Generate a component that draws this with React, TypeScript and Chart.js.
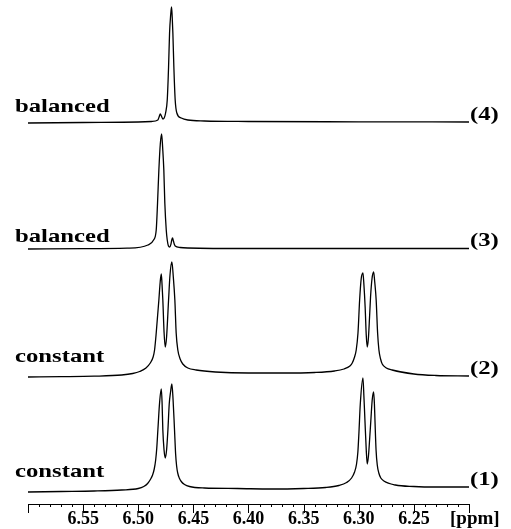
import React, { useEffect, useRef } from "react";
import { Chart, registerables } from "chart.js";

Chart.register(...registerables);

// ppm axis
const PPM_MIN = 6.2;
const PPM_MAX = 6.6;
const TICK_LABELS = ["6.55", "6.50", "6.45", "6.40", "6.35", "6.30", "6.25"];
const AXIS_UNIT = "[ppm]";

// trace names (bottom to top)
const TRACE_NAMES = ["constant", "constant", "balanced", "balanced"];
const TRACE_TAGS = ["(1)", "(2)", "(3)", "(4)"];
// vertical offsets of the stacked spectra (intensity units)
const TRACE_OFFSETS = [12, 127, 255, 381];

// spectrum (1): [ppm, intensity]
const SPECTRUM_1: [number, number][] = [
  [6.6, 0], [6.57, 0.5], [6.54, 1], [6.515, 2], [6.5, 3.5], [6.495, 5.5], [6.4915, 8.5], [6.489, 12.5],
  [6.487, 17], [6.4855, 23], [6.4842, 32], [6.4832, 44], [6.4822, 62], [6.4806, 90], [6.4791, 103],
  [6.4784, 90], [6.4777, 62], [6.4766, 42], [6.4755, 34], [6.4743, 42], [6.4731, 62], [6.4719, 88],
  [6.4707, 100], [6.4695, 108], [6.4684, 92], [6.4671, 62], [6.4661, 38], [6.4652, 26], [6.4642, 19],
  [6.4628, 14], [6.461, 10.5], [6.458, 7.5], [6.4535, 5.5], [6.44, 4], [6.41, 3.5], [6.38, 3],
  [6.35, 3.5], [6.33, 4.5], [6.318, 6.5], [6.311, 9.5], [6.3065, 14], [6.3038, 20], [6.302, 28],
  [6.3008, 40], [6.2998, 60], [6.2986, 88], [6.2962, 114], [6.2953, 95], [6.2944, 72], [6.2932, 42],
  [6.2923, 28], [6.2912, 36], [6.29, 55], [6.289, 72], [6.2878, 92], [6.2865, 100], [6.2858, 88],
  [6.2853, 72], [6.2843, 42], [6.2832, 27], [6.2818, 19], [6.28, 14], [6.2772, 11], [6.2667, 7],
  [6.25, 5.5], [6.23, 5], [6.2, 5],
];

// spectrum (2)
const SPECTRUM_2: [number, number][] = [
  [6.6, 0], [6.57, 0.3], [6.54, 0.8], [6.515, 2], [6.505, 3.5], [6.4987, 5.5], [6.493, 9], [6.4891, 14],
  [6.4865, 20], [6.4852, 27], [6.4837, 44], [6.4813, 77], [6.4801, 95], [6.4791, 103], [6.4784, 92],
  [6.4777, 77], [6.4766, 45], [6.4755, 30], [6.4743, 40], [6.4725, 77], [6.4712, 102], [6.4695, 115],
  [6.4682, 100], [6.4668, 77], [6.4656, 44], [6.4641, 27], [6.462, 18], [6.4596, 13], [6.455, 9],
  [6.4475, 7], [6.43, 5], [6.4, 4], [6.37, 4], [6.34, 4.5], [6.322, 6], [6.3134, 8], [6.308, 11],
  [6.3059, 14], [6.3038, 20], [6.3023, 27], [6.3007, 44], [6.2992, 77], [6.2978, 98], [6.2962, 104],
  [6.2953, 92], [6.2942, 70], [6.2932, 42], [6.2923, 30], [6.2913, 38], [6.2902, 60], [6.2893, 80],
  [6.288, 98], [6.2865, 105], [6.2855, 95], [6.2842, 77], [6.2829, 44], [6.2817, 27], [6.2802, 18],
  [6.2787, 13], [6.275, 9], [6.2697, 7], [6.25, 3], [6.23, 1.5], [6.2, 1],
];

// spectrum (3)
const SPECTRUM_3: [number, number][] = [
  [6.6, 0], [6.55, 0.3], [6.51, 0.8], [6.4912, 4], [6.4861, 9], [6.4837, 19], [6.4825, 46], [6.4813, 79],
  [6.48, 105], [6.4788, 115], [6.4778, 100], [6.4768, 79], [6.4759, 46], [6.4746, 19], [6.4737, 9],
  [6.4726, 3], [6.4715, 2], [6.4703, 5], [6.4696, 9], [6.4689, 11], [6.4681, 8], [6.4672, 4.5],
  [6.4665, 3], [6.462, 1.5], [6.455, 1], [6.4, 0.5], [6.3, 0.5], [6.2, 0.5],
];

// spectrum (4)
const SPECTRUM_4: [number, number][] = [
  [6.6, 0], [6.55, 0.5], [6.5, 1], [6.488, 1.5], [6.4822, 3], [6.4811, 6], [6.48, 9], [6.479, 7],
  [6.4777, 4], [6.4765, 5], [6.4752, 10], [6.4737, 23], [6.4725, 56], [6.4716, 90], [6.4706, 108],
  [6.4698, 116], [6.4692, 106], [6.4686, 90], [6.4677, 56], [6.4665, 23], [6.465, 10], [6.461, 5],
  [6.455, 3], [6.44, 2], [6.4, 1.5], [6.3, 1.2], [6.2, 1],
];

const SPECTRA = [SPECTRUM_1, SPECTRUM_2, SPECTRUM_3, SPECTRUM_4];

const LABEL_FONT = 'bold 19px "Liberation Serif", "Times New Roman", serif';
const LABEL_STRETCH = 1.3;
const NAME_RISE = [15, 15, 7, 11];

const overlayPlugin = {
  id: "nmrOverlay",
  afterDraw(chart: any) {
    const ctx = chart.ctx as CanvasRenderingContext2D;
    const xs = chart.scales.x;
    const ys = chart.scales.y;
    const area = chart.chartArea;
    ctx.save();
    // tick marks: long at labelled positions, short otherwise
    ctx.strokeStyle = "#000";
    ctx.lineWidth = 1;
    const y0 = area.bottom;
    for (const t of xs.ticks) {
      const px = Math.round(xs.getPixelForValue(t.value)) + 0.5;
      const major = Math.round(t.value * 100) % 5 === 0;
      ctx.beginPath();
      ctx.moveTo(px, y0);
      ctx.lineTo(px, y0 + (major ? 9 : 3));
      ctx.stroke();
    }
    ctx.fillStyle = "#000";
    ctx.font = LABEL_FONT;
    // unit label
    ctx.textBaseline = "middle";
    ctx.textAlign = "left";
    ctx.fillText(AXIS_UNIT, area.right - 19, y0 + 15);
    // trace names and tags
    SPECTRA.forEach((sp, i) => {
      const base = ys.getPixelForValue(TRACE_OFFSETS[i]);
      ctx.save();
      ctx.textBaseline = "alphabetic";
      ctx.translate(area.left - 13, base - NAME_RISE[i]);
      ctx.scale(LABEL_STRETCH, 1);
      ctx.fillText(TRACE_NAMES[i], 0, 0);
      ctx.restore();
      const endVal = TRACE_OFFSETS[i] + sp[sp.length - 1][1];
      const endPx = ys.getPixelForValue(endVal);
      ctx.save();
      ctx.textBaseline = "middle";
      ctx.translate(area.right + 1, endPx - 7);
      ctx.scale(LABEL_STRETCH, 1);
      ctx.fillText(TRACE_TAGS[i], 0, 0);
      ctx.restore();
    });
    ctx.restore();
  },
};

export default function App() {
  const ref = useRef<HTMLCanvasElement | null>(null);
  useEffect(() => {
    if (!ref.current) return;
    const datasets = SPECTRA.map((sp, i) => ({
      label: TRACE_TAGS[i],
      data: [...sp]
        .sort((a, b) => b[0] - a[0])
        .map(([x, y]) => ({ x, y: y + TRACE_OFFSETS[i] })),
      borderColor: "#000",
      borderWidth: 1.3,
      pointRadius: 0,
      fill: false,
      cubicInterpolationMode: "monotone" as const,
      clip: false as any,
    }));
    const chart = new Chart(ref.current, {
      type: "line",
      data: { datasets },
      options: {
        animation: false,
        responsive: false,
        devicePixelRatio: 1,
        layout: { padding: { top: 4, left: 28, right: 42, bottom: 1 } },
        plugins: { legend: { display: false }, tooltip: { enabled: false } },
        scales: {
          x: {
            type: "linear",
            reverse: true,
            min: PPM_MIN,
            max: PPM_MAX,
            border: { display: true, color: "#000", width: 1 },
            grid: {
              display: true,
              drawOnChartArea: false,
              drawTicks: true,
              tickLength: 6,
              color: "rgba(0,0,0,0)",
            },
            ticks: {
              stepSize: 0.01,
              autoSkip: false,
              maxRotation: 0,
              minRotation: 0,
              padding: 0,
              color: "#000",
              font: { family: '"Liberation Serif", "Times New Roman", serif', size: 18, weight: "bold", lineHeight: 1 },
              callback: (value: any) => {
                const s = (Math.round(Number(value) * 100) / 100).toFixed(2);
                return TICK_LABELS.includes(s) ? s : "";
              },
            },
          },
          y: { display: false, min: 0, max: 500 },
        },
      },
      plugins: [overlayPlugin],
    });
    return () => chart.destroy();
  }, []);
  return (
    <div style={{ position: "fixed", left: 0, top: 0, width: 511, height: 529 }}>
      <canvas ref={ref} width={511} height={529} style={{ display: "block" }} />
    </div>
  );
}
